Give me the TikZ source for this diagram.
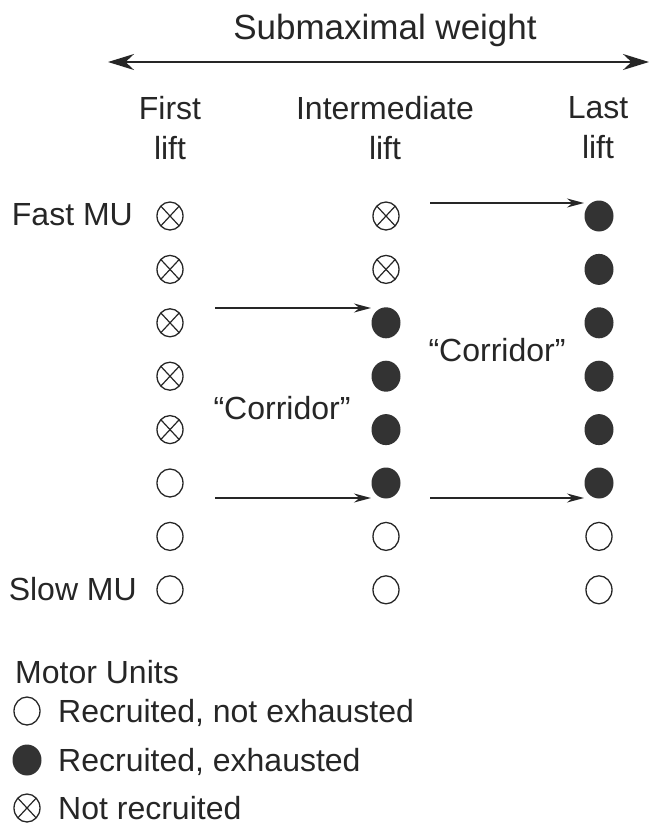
\documentclass[tikz,border=0pt]{standalone}
\usepackage{fontspec}
\setmainfont{Liberation Sans}
\usetikzlibrary{arrows.meta,calc,shapes.geometric}
\begin{document}
\begin{tikzpicture}[x=1pt,y=-1pt,
  txt/.style={font=\fontsize{32}{36}\selectfont, text=black!85, inner sep=0pt},
  mu/.style={ellipse, draw=black!85, line width=1.3pt, minimum width=26pt, minimum height=28pt, inner sep=0pt},
  notrec/.style={mu, path picture={
     \draw[line width=1.2pt, black!85] (path picture bounding box.south west) -- (path picture bounding box.north east);
     \draw[line width=1.2pt, black!85] (path picture bounding box.north west) -- (path picture bounding box.south east);}},
  exh/.style={ellipse, fill=black!80, minimum width=29pt, minimum height=31pt, inner sep=0pt},
  rec/.style={mu},
  conn/.style={line width=1.4pt, black!85, -{Stealth[length=17pt,width=9pt]}},
]
\useasboundingbox (0,0) rectangle (649,825);
% header
\node[txt, font=\fontsize{35}{38}\selectfont] (title) at (385,30) {Submaximal weight};
\coordinate (wl) at (108,62);
\coordinate (wr) at (649,62);
\draw[line width=2pt, black!85, {Stealth[length=26pt,width=16pt]}-{Stealth[length=26pt,width=16pt]}] (wl) -- (wr);
\node[txt, align=center] (h1) at (170,128) {First\\[4pt]lift};
\node[txt, align=center] (h2) at (385,128) {Intermediate\\[4pt]lift};
\node[txt, align=center] (h3) at (598,128) {Last\\[4pt]lift};
% columns
\foreach \i/\s in {1/notrec,2/notrec,3/notrec,4/notrec,5/notrec,6/rec,7/rec,8/rec}{
  \node[\s] (F\i) at (170,{216+53.4*(\i-1)}) {};}
\foreach \i/\s in {1/notrec,2/notrec,3/exh,4/exh,5/exh,6/exh,7/rec,8/rec}{
  \node[\s] (I\i) at (386,{216+53.4*(\i-1)}) {};}
\foreach \i/\s in {1/exh,2/exh,3/exh,4/exh,5/exh,6/exh,7/rec,8/rec}{
  \node[\s] (L\i) at (599,{216+53.4*(\i-1)}) {};}
\node[txt, anchor=east] (fast) at (133,215) {Fast MU};
\node[txt, anchor=east] (slow) at (137,589) {Slow MU};
% arrows
\coordinate (a1s) at (430,203); \coordinate (a1e) at (584,203);
\coordinate (a2s) at (215,308); \coordinate (a2e) at (371,308);
\coordinate (a3s) at (215,498); \coordinate (a3e) at (371,498);
\coordinate (a4s) at (430,498); \coordinate (a4e) at (584,498);
\draw[conn] (a1s) -- (a1e);
\draw[conn] (a2s) -- (a2e);
\draw[conn] (a3s) -- (a3e);
\draw[conn] (a4s) -- (a4e);
\node[txt] (c1) at (282,408) {“Corridor”};
\node[txt] (c2) at (497,350) {“Corridor”};
% legend
\node[txt, anchor=west] (leg) at (15,672) {Motor Units};
\node[rec] (k1) at (27,711) {};
\node[exh] (k2) at (27,760) {};
\node[notrec] (k3) at (27,808) {};
\node[txt, anchor=west] (t1) at (58,713) {Recruited, not exhausted};
\node[txt, anchor=west] (t2) at (58,762) {Recruited, exhausted};
\node[txt, anchor=west] (t3) at (58,808) {Not recruited};
\end{tikzpicture}
\end{document}
